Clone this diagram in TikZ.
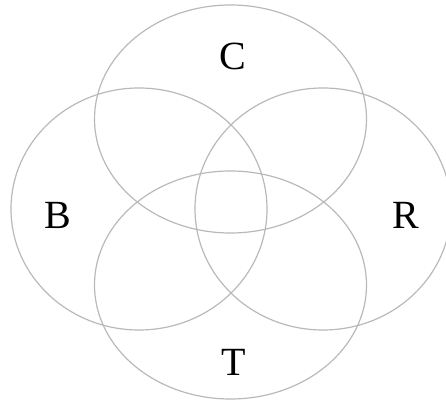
\documentclass[tikz,border=0pt]{standalone}
\usepackage{fontspec}
\setmainfont{Liberation Serif}
\usetikzlibrary{shapes.geometric}
\definecolor{ringgray}{RGB}{185,185,185}
\begin{document}
\begin{tikzpicture}[x=1pt,y=1pt,
  ring/.style={ellipse, draw=ringgray, line width=1.2pt, inner sep=0pt},
  wide/.style={ring, minimum width=272pt, minimum height=228pt},
  tall/.style={ring, minimum width=256pt, minimum height=242pt},
  lab/.style={font=\fontsize{40}{40}\selectfont, text=black}]
\useasboundingbox (0,0) rectangle (446,403);
\node[wide] (C) at (230.5,284) {};
\node[wide] (T) at (230.5,118) {};
\node[tall] (B) at (139,194) {};
\node[tall] (R) at (323,194) {};
\node[lab] (lC) at (233,347) {C};
\node[lab] (lB) at (58,188) {B};
\node[lab] (lR) at (406,188) {R};
\node[lab] (lT) at (234,41) {T};
\end{tikzpicture}
\end{document}
